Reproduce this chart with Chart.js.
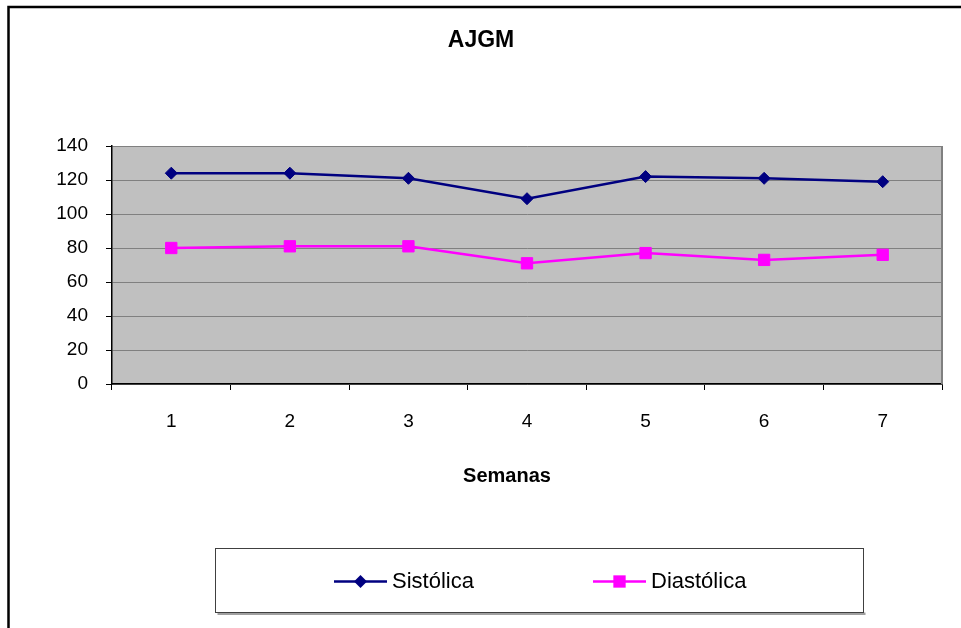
<!DOCTYPE html>
<html>
<head>
<meta charset="utf-8">
<title>AJGM</title>
<script src="https://cdn.jsdelivr.net/npm/chart.js@4.4.1/dist/chart.umd.min.js"></script>
<style>
    html, body { margin: 0; padding: 0; background: #ffffff; }
    canvas { display: block; }
</style>
</head>
<body>
<canvas id="chart" width="961" height="628"></canvas>
<script>
// Weekly blood pressure readings
const semanas = ['1', '2', '3', '4', '5', '6', '7'];
const sistolica = [124, 124, 121, 109, 122, 121, 119];
const diastolica = [80, 81, 81, 71, 77, 73, 76];
const yTicks = [0, 20, 40, 60, 80, 100, 120, 140];

const FONT = "'Liberation Sans', Arial, sans-serif";
const NAVY = '#000080';
const MAGENTA = '#ff00ff';
const CHART_TITLE = 'AJGM';
const X_TITLE = 'Semanas';

/**
 * Grey plot background, white page, outer frame and the two titles
 */
const plotFrame = {
    id: 'plotFrame',
    beforeDraw(chart) {
        const { ctx, chartArea: a } = chart;
        ctx.save();
        ctx.fillStyle = '#ffffff';
        ctx.fillRect(0, 0, chart.width, chart.height);
        ctx.fillStyle = '#c0c0c0';
        ctx.fillRect(a.left, a.top, a.right - a.left, a.bottom - a.top);
        ctx.restore();
    },
    afterDraw(chart) {
        const { ctx, chartArea: a } = chart;
        ctx.save();
        // right edge of the plot area
        ctx.strokeStyle = '#808080';
        ctx.lineWidth = 2;
        ctx.beginPath();
        ctx.moveTo(a.right, a.top);
        ctx.lineTo(a.right, a.bottom);
        ctx.stroke();

        // outer frame, only its top and left sides fall inside the canvas
        ctx.strokeStyle = '#000000';
        ctx.lineWidth = 2.5;
        ctx.beginPath();
        ctx.moveTo(8.5, chart.height + 5);
        ctx.lineTo(8.5, 7);
        ctx.lineTo(chart.width + 5, 7);
        ctx.stroke();

        // chart title and x axis title
        ctx.fillStyle = '#000000';
        ctx.textAlign = 'center';
        ctx.textBaseline = 'alphabetic';
        ctx.font = `bold 23px ${FONT}`;
        ctx.fillText(CHART_TITLE, 481, 47);
        ctx.font = `bold 20px ${FONT}`;
        ctx.fillText(X_TITLE, 507, 482);
        ctx.restore();
    },
};

/**
 * Boxed legend under the axis title, line + marker + label per series
 */
const boxLegend = {
    id: 'boxLegend',
    afterDraw(chart) {
        const { ctx } = chart;
        const box = { x: 215.5, y: 548.5, w: 648, h: 64 };
        const starts = [334, 593];
        const lineLen = 53;
        const cy = box.y + box.h / 2 + 1;

        ctx.save();
        ctx.fillStyle = '#a0a0a0';
        ctx.fillRect(box.x + 2, box.y + box.h, box.w, 2.5);
        ctx.fillStyle = '#ffffff';
        ctx.fillRect(box.x, box.y, box.w, box.h);
        ctx.strokeStyle = '#404040';
        ctx.lineWidth = 1;
        ctx.strokeRect(box.x, box.y, box.w, box.h);

        chart.data.datasets.forEach((ds, i) => {
            const x0 = starts[i];
            const mx = x0 + lineLen / 2;
            ctx.strokeStyle = ds.borderColor;
            ctx.lineWidth = 2.5;
            ctx.beginPath();
            ctx.moveTo(x0, cy);
            ctx.lineTo(x0 + lineLen, cy);
            ctx.stroke();

            ctx.fillStyle = ds.pointBackgroundColor;
            if (ds.pointStyle === 'rectRot') {
                const r = ds.pointRadius + 0.5;
                ctx.beginPath();
                ctx.moveTo(mx, cy - r);
                ctx.lineTo(mx + r, cy);
                ctx.lineTo(mx, cy + r);
                ctx.lineTo(mx - r, cy);
                ctx.closePath();
                ctx.fill();
            } else {
                const s = ds.pointRadius * Math.SQRT1_2 + 0.5;
                ctx.fillRect(mx - s, cy - s, 2 * s, 2 * s);
            }

            ctx.fillStyle = '#000000';
            ctx.font = `22px ${FONT}`;
            ctx.textAlign = 'left';
            ctx.textBaseline = 'middle';
            ctx.fillText(ds.label, x0 + lineLen + 5, cy);
        });
        ctx.restore();
    },
};

const ctx = document.getElementById('chart');

new Chart(ctx, {
    type: 'line',
    data: {
        labels: semanas,
        datasets: [
            {
                label: 'Sistólica',
                data: sistolica,
                borderColor: NAVY,
                backgroundColor: NAVY,
                borderWidth: 2.5,
                pointStyle: 'rectRot',
                pointRadius: 6,
                pointBackgroundColor: NAVY,
                pointBorderColor: NAVY,
                pointBorderWidth: 1,
                tension: 0,
            },
            {
                label: 'Diastólica',
                data: diastolica,
                borderColor: MAGENTA,
                backgroundColor: MAGENTA,
                borderWidth: 2.5,
                pointStyle: 'rect',
                pointRadius: 8,
                pointBackgroundColor: MAGENTA,
                pointBorderColor: MAGENTA,
                pointBorderWidth: 1,
                tension: 0,
            },
        ],
    },
    options: {
        responsive: false,
        animation: false,
        devicePixelRatio: 1,
        layout: {
            padding: { left: 9, right: 19, top: 146, bottom: 0 },
        },
        plugins: {
            legend: { display: false },
            tooltip: { enabled: false },
            title: { display: false },
        },
        scales: {
            x: {
                offset: true,
                grid: {
                    offset: true,
                    drawOnChartArea: false,
                    drawTicks: true,
                    tickLength: 6,
                    color: '#000000',
                    tickColor: '#000000',
                },
                border: { display: true, color: '#000000', width: 1.5 },
                ticks: {
                    color: '#000000',
                    padding: 20,
                    font: { family: FONT, size: 19 },
                    maxRotation: 0,
                },
                afterFit(scale) {
                    scale.height = 244;
                },
            },
            y: {
                min: 0,
                max: 140,
                afterBuildTicks(scale) {
                    scale.ticks = yTicks.map((v) => ({ value: v }));
                },
                grid: {
                    color: '#808080',
                    tickColor: '#000000',
                    lineWidth: 1,
                    tickLength: 6,
                },
                border: { display: true, color: '#000000', width: 1.5 },
                ticks: {
                    color: '#000000',
                    padding: 18,
                    font: { family: FONT, size: 19 },
                },
                afterFit(scale) {
                    scale.width = 103;
                },
            },
        },
    },
    plugins: [plotFrame, boxLegend],
});
</script>
</body>
</html>
